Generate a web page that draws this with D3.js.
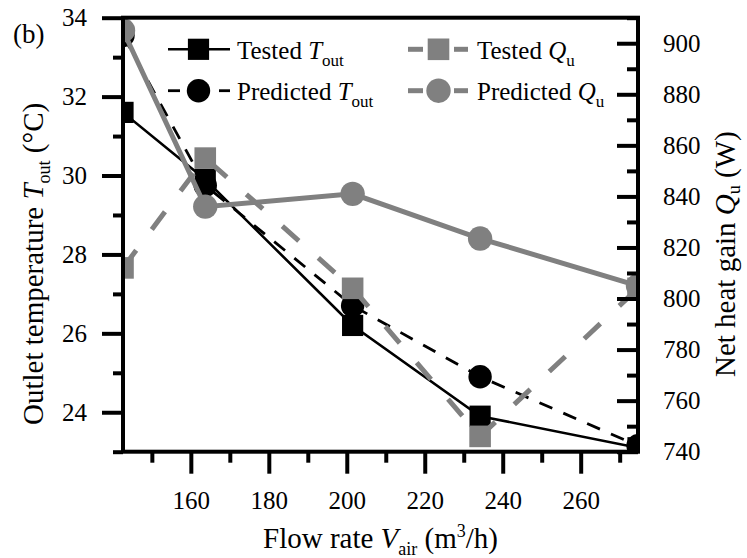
<!DOCTYPE html>
<html><head><meta charset="utf-8">
<script src="https://cdn.jsdelivr.net/npm/d3@7"></script>
<style>
html,body{margin:0;padding:0;background:#fff;}
svg{display:block;}
svg text{font-family:"Liberation Serif","DejaVu Serif","Noto Serif",serif !important;fill:#000;}
</style></head>
<body>
<svg id="chart" width="747" height="558" font-family="Liberation Serif, DejaVu Serif, serif"></svg>
<script>
// ---- data ----
const flowRate   = [142.6, 163.7, 201.5, 234.2, 274.7];
const testedT    = [31.6, 29.9, 26.2, 23.9, 23.1];
const predictedT = [33.55, 29.75, 26.7, 24.9, 23.15];
const testedQ    = [812, 855, 804, 746, 804];
const predictedQ = [905, 836, 841, 823.5, 805];
const xMajorTicks = [160, 180, 200, 220, 240, 260];
const xMinorTicks = [150, 170, 190, 210, 230, 250, 270];
const yLMajorTicks = [24, 26, 28, 30, 32, 34];
const yLMinorTicks = [23, 25, 27, 29, 31, 33];
const yRMajorTicks = [740, 760, 780, 800, 820, 840, 860, 880, 900];
const yRMinorTicks = [750, 770, 790, 810, 830, 850, 870, 890, 910];

const FONT = "Liberation Serif, DejaVu Serif, serif";
const L = 123, R = 638, T = 17.7, B = 451.7;
const gray = "#808080";
const svg = d3.select("#chart");

const x = d3.scaleLinear().domain([142.6, 274.7]).range([L, R]);
const yL = d3.scaleLinear().domain([23, 34]).range([B, T]);
const yR = d3.scaleLinear().domain([740, 910]).range([B, T]);

function styleAxis(g, fs) {
  g.attr("font-family", FONT);
  g.select(".domain").remove();
  g.selectAll(".tick line").attr("stroke", "#000").attr("stroke-width", 4);
  g.selectAll(".tick text").attr("font-family", FONT).attr("font-size", fs).attr("fill", "#000");
}

svg.append("defs").append("clipPath").attr("id", "clip")
  .append("rect").attr("x", L).attr("y", T).attr("width", R - L).attr("height", B - T);

const plot = svg.append("g").attr("clip-path", "url(#clip)");

const pts = (ys, sc) => flowRate.map((v, i) => [x(v), sc(ys[i])]);
const line = d3.line();

plot.append("path").attr("d", line(pts(testedT, yL))).attr("fill", "none")
  .attr("stroke", "#000").attr("stroke-width", 2.6);
plot.append("path").attr("d", line(pts(predictedT, yL))).attr("fill", "none")
  .attr("stroke", "#000").attr("stroke-width", 2.8).attr("stroke-dasharray", "14,12");
plot.selectAll(".sqT").data(pts(testedT, yL)).enter().append("rect")
  .attr("x", d => d[0] - 10.6).attr("y", d => d[1] - 10.6).attr("width", 21.2).attr("height", 21.2).attr("fill", "#000");
plot.selectAll(".ciT").data(pts(predictedT, yL)).enter().append("circle")
  .attr("cx", d => d[0]).attr("cy", d => d[1]).attr("r", 11.7).attr("fill", "#000");
plot.append("path").attr("d", line(pts(testedQ, yR))).attr("fill", "none")
  .attr("stroke", gray).attr("stroke-width", 5).attr("stroke-dasharray", "22,26");
plot.append("path").attr("d", line(pts(predictedQ, yR))).attr("fill", "none")
  .attr("stroke", gray).attr("stroke-width", 5);
plot.selectAll(".sqQ").data(pts(testedQ, yR)).enter().append("rect")
  .attr("x", d => d[0] - 10.8).attr("y", d => d[1] - 10.8).attr("width", 21.6).attr("height", 21.6).attr("fill", gray);
plot.selectAll(".ciQ").data(pts(predictedQ, yR)).enter().append("circle")
  .attr("cx", d => d[0]).attr("cy", d => d[1]).attr("r", 12.2).attr("fill", gray);

const gBm = svg.append("g").attr("transform", `translate(0,${B})`)
  .call(d3.axisBottom(x).tickValues(xMinorTicks).tickSize(11).tickFormat(""));
styleAxis(gBm, 25);
const gB = svg.append("g").attr("transform", `translate(0,${B})`)
  .call(d3.axisBottom(x).tickValues(xMajorTicks).tickSize(22).tickPadding(18).tickFormat(d3.format("d")));
styleAxis(gB, 25);

const gLm = svg.append("g").attr("transform", `translate(${L},0)`)
  .call(d3.axisLeft(yL).tickValues(yLMinorTicks).tickSize(10).tickFormat(""));
styleAxis(gLm, 25);
const gL = svg.append("g").attr("transform", `translate(${L},0)`)
  .call(d3.axisLeft(yL).tickValues(yLMajorTicks).tickSize(21).tickPadding(15).tickFormat(d3.format("d")));
styleAxis(gL, 25);

const gRm = svg.append("g").attr("transform", `translate(${R},0)`)
  .call(d3.axisRight(yR).tickValues(yRMinorTicks).tickSizeInner(-11).tickSizeOuter(0).tickFormat(""));
styleAxis(gRm, 25);
const gR = svg.append("g").attr("transform", `translate(${R},0)`)
  .call(d3.axisRight(yR).tickValues(yRMajorTicks).tickSizeInner(-21).tickSizeOuter(0).tickPadding(25).tickFormat(d3.format("d")));
styleAxis(gR, 25);

svg.append("rect").attr("x", L).attr("y", T).attr("width", R - L).attr("height", B - T)
  .attr("fill", "none").attr("stroke", "#000").attr("stroke-width", 4);

const tx = svg.append("text").attr("x", (L + R) / 2).attr("y", 547.7).attr("text-anchor", "middle").attr("font-size", 29).attr("font-family", FONT);
tx.append("tspan").text("Flow rate ");
tx.append("tspan").attr("font-style", "italic").text("V");
tx.append("tspan").attr("font-size", 18).attr("dy", 7).text("air");
tx.append("tspan").attr("dy", -7).text(" (m");
tx.append("tspan").attr("font-size", 18).attr("dy", -11).text("3");
tx.append("tspan").attr("dy", 11).text("/h)");

const tl = svg.append("text").attr("transform", "translate(43,425) rotate(-90)").attr("font-size", 29).attr("font-family", FONT);
tl.append("tspan").text("Outlet temperature ");
tl.append("tspan").attr("font-style", "italic").text("T");
tl.append("tspan").attr("font-size", 18).attr("dy", 7).text("out");
tl.append("tspan").attr("dy", -7).text(" (°C)");

const tr = svg.append("text").attr("transform", "translate(735,377) rotate(-90)").attr("font-size", 29).attr("font-family", FONT);
tr.append("tspan").text("Net heat gain ");
tr.append("tspan").attr("font-style", "italic").text("Q");
tr.append("tspan").attr("font-size", 18).attr("dy", 5).text("u");
tr.append("tspan").attr("dy", -5).text(" (W)");

svg.append("text").attr("x", 13).attr("y", 43).attr("font-size", 27).attr("font-family", FONT).text("(b)");

const lg = svg.append("g");
function legText(xp, yp, main, sym, sub) {
  const t = lg.append("text").attr("x", xp).attr("y", yp).attr("font-size", 25).attr("font-family", FONT);
  t.append("tspan").text(main);
  t.append("tspan").attr("font-style", "italic").text(sym);
  t.append("tspan").attr("font-size", 17).attr("dy", 7).text(sub);
}
lg.append("line").attr("x1", 168).attr("x2", 230).attr("y1", 49.3).attr("y2", 49.3).attr("stroke", "#000").attr("stroke-width", 2.6);
lg.append("rect").attr("x", 198.5 - 10.6).attr("y", 49.3 - 10.6).attr("width", 21.2).attr("height", 21.2).attr("fill", "#000");
legText(237, 58.5, "Tested ", "T", "out");
lg.append("line").attr("x1", 168).attr("x2", 180).attr("y1", 90.7).attr("y2", 90.7).attr("stroke", "#000").attr("stroke-width", 2.8);
lg.append("line").attr("x1", 219).attr("x2", 230).attr("y1", 90.7).attr("y2", 90.7).attr("stroke", "#000").attr("stroke-width", 2.8);
lg.append("circle").attr("cx", 198.5).attr("cy", 90.7).attr("r", 11.7).attr("fill", "#000");
legText(237, 99.5, "Predicted ", "T", "out");
lg.append("line").attr("x1", 408).attr("x2", 423).attr("y1", 49.3).attr("y2", 49.3).attr("stroke", gray).attr("stroke-width", 5);
lg.append("line").attr("x1", 454).attr("x2", 468).attr("y1", 49.3).attr("y2", 49.3).attr("stroke", gray).attr("stroke-width", 5);
lg.append("rect").attr("x", 438.5 - 10.8).attr("y", 49.3 - 10.8).attr("width", 21.6).attr("height", 21.6).attr("fill", gray);
legText(477, 58.5, "Tested ", "Q", "u");
lg.append("line").attr("x1", 408).attr("x2", 423).attr("y1", 90.7).attr("y2", 90.7).attr("stroke", gray).attr("stroke-width", 5);
lg.append("line").attr("x1", 454).attr("x2", 468).attr("y1", 90.7).attr("y2", 90.7).attr("stroke", gray).attr("stroke-width", 5);
lg.append("circle").attr("cx", 438.5).attr("cy", 90.7).attr("r", 12.2).attr("fill", gray);
legText(477, 99.5, "Predicted ", "Q", "u");
</script>
</body></html>
